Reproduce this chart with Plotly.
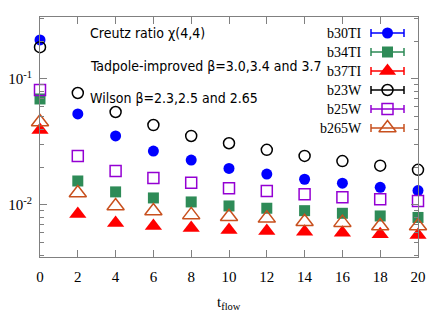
import plotly.graph_objects as go

t_flow = [0, 2, 4, 6, 8, 10, 12, 14, 16, 18, 20]

b30TI = [0.204, 0.0528, 0.0353, 0.0268, 0.0227, 0.0195, 0.0176, 0.0160, 0.0149, 0.0138, 0.0130]
b34TI = [0.0694, 0.0155, 0.0127, 0.01137, 0.01057, 0.00982, 0.00942, 0.00901, 0.00859, 0.00818, 0.00796]
b37TI = [0.0394, 0.00849, 0.00719, 0.00681, 0.00656, 0.00634, 0.00622, 0.00614, 0.00603, 0.00585, 0.00578]
b23W = [0.179, 0.0774, 0.0547, 0.0431, 0.0353, 0.0309, 0.0274, 0.0245, 0.0223, 0.0205, 0.0190]
b25W = [0.0818, 0.0245, 0.0186, 0.0164, 0.0150, 0.0136, 0.0129, 0.01216, 0.01150, 0.01109, 0.01076]
b265W = [0.0456, 0.01245, 0.00982, 0.00896, 0.00834, 0.00807, 0.00783, 0.00737, 0.00724, 0.00681, 0.00681]

series_names = ["b30TI", "b34TI", "b37TI", "b23W", "b25W", "b265W"]
series_vals = [b30TI, b34TI, b37TI, b23W, b25W, b265W]
colors = ["#0000ff", "#2e8b57", "#ff0000", "#000000", "#9400d3", "#c8501e"]
symbols = ["circle", "square", "triangle-up", "circle-open", "square-open", "triangle-up-open"]
sizes = [11, 11, 15, 11, 11, 15]

x_ticks = [0, 2, 4, 6, 8, 10, 12, 14, 16, 18, 20]
y_major = [0.01, 0.1]
y_major_text = ["10<sup>-2</sup>", "10<sup>-1</sup>"]
y_minor = [0.004, 0.005, 0.006, 0.007, 0.008, 0.009,
           0.02, 0.03, 0.04, 0.05, 0.06, 0.07, 0.08, 0.09, 0.2, 0.3]

text_lines = ["Creutz ratio \u03c7(4,4)",
              "Tadpole-improved \u03b2=3.0,3.4 and 3.7",
              "Wilson \u03b2=2.3,2.5 and 2.65"]

SANS = "DejaVu Sans Condensed, Liberation Sans Narrow, DejaVu Sans"
SERIF = "Liberation Serif, Times New Roman, serif"

fig = go.Figure()

for name, vals, c, s, sz in zip(series_names, series_vals, colors, symbols, sizes):
    open_ = s.endswith("open")
    fig.add_trace(go.Scatter(
        x=t_flow, y=vals, mode="markers", name=name, showlegend=False,
        cliponaxis=False,
        marker=dict(symbol=s, size=sz, color=c,
                    line=dict(color=c, width=1.5 if open_ else 0)),
    ))

# custom gnuplot-style legend (label, then error-bar sample with marker)
# legend axes use window-pixel coordinates of the plot area (x 40..418, y 17..257)
leg_x = 387.5
leg_y0 = 33
leg_dy = 19
for i, (name, c, s, sz) in enumerate(zip(series_names, colors, symbols, sizes)):
    yy = leg_y0 + i * leg_dy
    open_ = s.endswith("open")
    fig.add_trace(go.Scatter(
        x=[leg_x], y=[yy], mode="markers", xaxis="x2", yaxis="y2",
        showlegend=False, cliponaxis=False, hoverinfo="skip",
        marker=dict(symbol=s, size=sz, color=c,
                    line=dict(color=c, width=1.5 if open_ else 0)),
        error_x=dict(type="constant", value=16.5, color=c, thickness=1.5, width=4),
    ))
    fig.add_annotation(x=364, y=yy, xref="x2", yref="y2", text=name,
                       showarrow=False, xanchor="right", yanchor="middle",
                       font=dict(family=SERIF, size=14, color="black"))

for i, txt in enumerate(text_lines):
    fig.add_annotation(x=88, y=33 + i * 32.5, xref="x2", yref="y2", text=txt,
                       showarrow=False, xanchor="left", yanchor="middle",
                       font=dict(family=SANS, size=14, color="black"))

fig.add_annotation(x=0.5, y=0, xref="paper", yref="paper", yshift=-46,
                   text="t<sub>flow</sub>", showarrow=False,
                   xanchor="center", yanchor="middle",
                   font=dict(family=SERIF, size=15, color="black"))

# page body has an 8px default margin; size the figure so the plot area
# lands at window pixels x 40..418, y 17..257
fig.update_layout(
    width=420, height=311,
    margin=dict(l=32, r=10, t=9, b=62, autoexpand=False),
    paper_bgcolor="white", plot_bgcolor="white",
    xaxis=dict(range=[0, 20], tickvals=x_ticks, ticks="inside", ticklen=7,
               tickcolor="#808080", showline=True, linecolor="#808080",
               linewidth=1, mirror="ticks", showgrid=False, zeroline=False,
               tickfont=dict(family=SERIF, size=15, color="black"),
               ticklabelstandoff=6, automargin=False),
    yaxis=dict(type="log", range=[-2.413, -0.508], tickvals=y_major,
               ticktext=y_major_text, ticks="inside", ticklen=7,
               tickcolor="#808080", showline=True, linecolor="#808080",
               linewidth=1, mirror="ticks", showgrid=False, zeroline=False,
               tickfont=dict(family=SERIF, size=15, color="black"),
               minor=dict(tickvals=y_minor, ticks="inside", ticklen=4,
                          tickcolor="#808080", showgrid=False),
               ticklabelstandoff=4, automargin=False),
    xaxis2=dict(domain=[0, 1], range=[40, 418], overlaying="x", anchor="y2",
                visible=False, fixedrange=True, automargin=False),
    yaxis2=dict(domain=[0, 1], range=[257, 17], overlaying="y", anchor="x2",
                visible=False, fixedrange=True, automargin=False),
)

fig.write_html("out.html")
